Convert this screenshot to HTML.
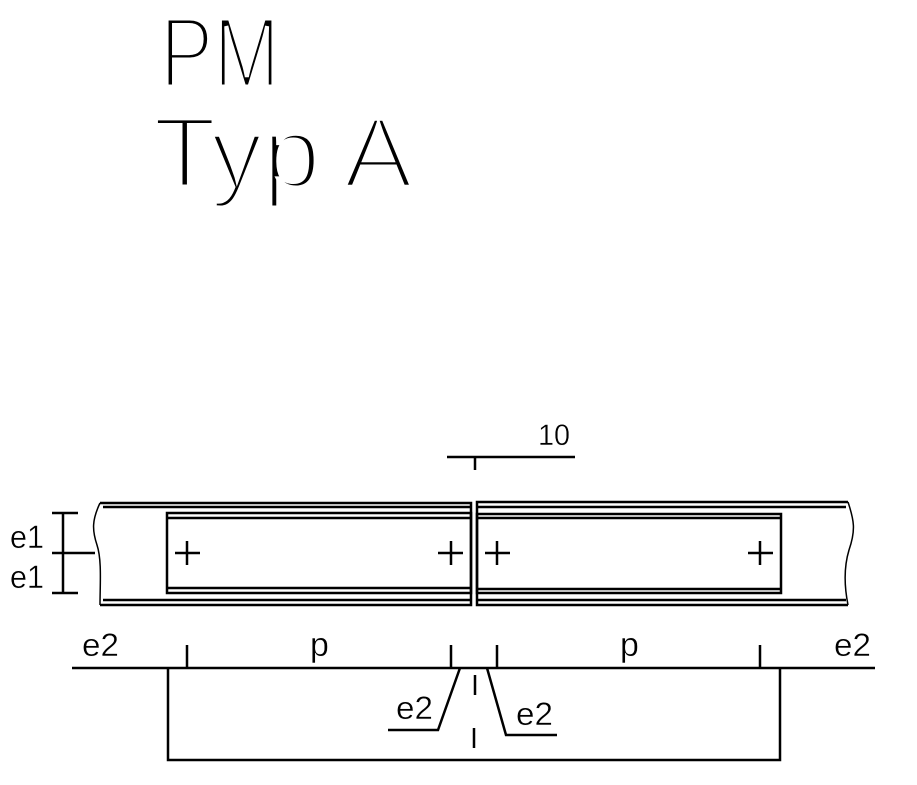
<!DOCTYPE html>
<html><head><style>html,body{margin:0;padding:0;background:#fff}svg{display:block}</style></head>
<body>
<svg width="917" height="785" viewBox="0 0 917 785" xmlns="http://www.w3.org/2000/svg" font-family="Liberation Sans, sans-serif">
<rect width="917" height="785" fill="#fff"/>
<g fill="#000" stroke="#fff" stroke-width="5">
<text x="160" y="87" font-size="100" textLength="120" lengthAdjust="spacingAndGlyphs">PM</text>
<text x="153" y="187" font-size="100" textLength="260" lengthAdjust="spacingAndGlyphs">Typ A</text>
</g>
<g stroke="#000" fill="none" stroke-width="2.5">
<path d="M100 503 H471 V605 H100"/>
<path d="M103 507 H471 M103 600 H471"/>
<path d="M100 503 C92 520 92 530 97 545 C102 560 100 585 100 605" stroke-width="1.5"/>
<path d="M848 502 H477 V605 H848"/>
<path d="M477 507 H846 M477 600 H846"/>
<path d="M848 502 C854 520 856 530 849 550 C843 570 845 590 848 605" stroke-width="1.5"/>
<rect x="167" y="513" width="304" height="80"/>
<path d="M167 518 H471 M167 588 H471"/>
<rect x="477" y="514" width="304" height="79"/>
<path d="M477 518 H781 M477 589 H781"/>
<path d="M175 553 H200 M187 541 V565"/>
<path d="M438 553 H463 M451 541 V565"/>
<path d="M485 553 H510 M497 541 V565"/>
<path d="M748 553 H773 M760 541 V565"/>
<path d="M52 513 H78 M63 513 V593 M52 553 H95 M52 593 H78"/>
<path d="M72 668 H875"/>
<path d="M187 645 V668 M451 645 V668 M497 645 V668 M760 645 V668"/>
<path d="M168 668 V760 H780 V668"/>
<path d="M460 668 L438 730 H388"/>
<path d="M487 668 L506 735 H557"/>
<path d="M475 675 V695 M474 728 V748"/>
<path d="M447 457 H575 M475 457 V470"/>
</g>
<g fill="#000" font-size="32" stroke="#fff" stroke-width="0.4">
<text x="10" y="548" textLength="34" lengthAdjust="spacingAndGlyphs">e1</text>
<text x="10" y="588" textLength="34" lengthAdjust="spacingAndGlyphs">e1</text>
<text x="82" y="656" textLength="37" lengthAdjust="spacingAndGlyphs">e2</text>
<text x="310" y="656" font-size="34">p</text>
<text x="620" y="656" font-size="34">p</text>
<text x="834" y="656" textLength="37" lengthAdjust="spacingAndGlyphs">e2</text>
<text x="396" y="719" textLength="37" lengthAdjust="spacingAndGlyphs">e2</text>
<text x="516" y="725" textLength="37" lengthAdjust="spacingAndGlyphs">e2</text>
<text x="538" y="445" font-size="30" textLength="32" lengthAdjust="spacingAndGlyphs">10</text>
</g>
</svg>
</body></html>
